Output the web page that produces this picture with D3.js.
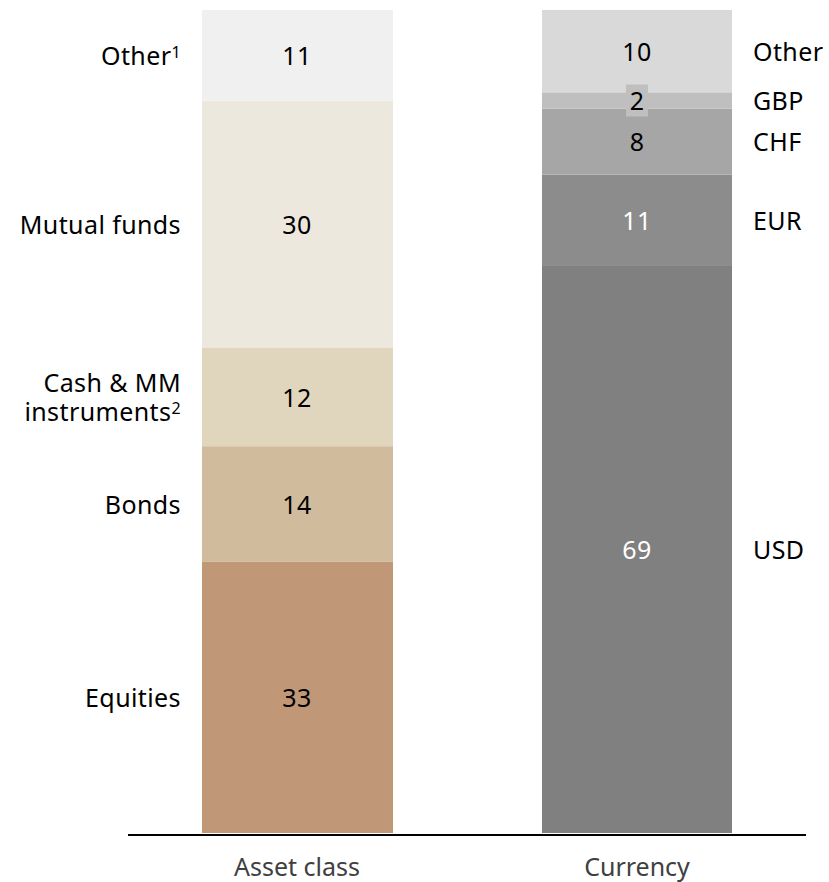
<!DOCTYPE html>
<html><head><meta charset="utf-8">
<script src="https://cdn.jsdelivr.net/npm/d3@7"></script>
<style>body{margin:0;background:#fff}svg{display:block}text{font-family:"Noto Sans",sans-serif}</style>
</head><body><svg id="c" width="829" height="882"></svg>
<script>
const groups = ["Asset class", "Currency"];
const assetNames = ["Equities", "Bonds", "Cash & MM instruments", "Mutual funds", "Other"];
const assetValues = [33, 14, 12, 30, 11];
const assetNotes = ["", "", "2", "", "1"];
const assetColors = ["#c09878", "#d0bc9c", "#e0d5bd", "#ede8dd", "#f0f0f0"];
const curNames = ["USD", "EUR", "CHF", "GBP", "Other"];
const curValues = [69, 11, 8, 2, 10];
const curColors = ["#808080", "#8c8c8c", "#a6a6a6", "#bfbfbf", "#d9d9d9"];
const whiteLabels = ["USD", "EUR"];

const svg = d3.select("#c");
const fs = 25;
const ls = "0.4px";
const barW = 190;
const x = d3.scaleOrdinal().domain(groups).range([202, 542]);
const y = d3.scaleLinear().domain([0, 100]).range([833, 10]);

function stack(vals){ let c = 0; return vals.map(v => { const s = c; c += v; return [s, c]; }); }
const aSt = stack(assetValues), cSt = stack(curValues);

const xA = x("Asset class"), xC = x("Currency");
const cxA = xA + barW / 2, cxC = xC + barW / 2;

// bars
svg.append("g").selectAll("rect").data(assetValues).join("rect")
  .attr("x", xA).attr("width", barW + 1)
  .attr("y", (d, i) => y(aSt[i][1])).attr("height", (d, i) => y(aSt[i][0]) - y(aSt[i][1]))
  .attr("fill", (d, i) => assetColors[i]);
svg.append("g").selectAll("rect").data(curValues).join("rect")
  .attr("x", xC).attr("width", barW)
  .attr("y", (d, i) => y(cSt[i][1])).attr("height", (d, i) => y(cSt[i][0]) - y(cSt[i][1]))
  .attr("fill", (d, i) => curColors[i]);

// asset value labels
assetValues.forEach((v, i) => {
  const [s, e] = aSt[i];
  svg.append("text").attr("x", cxA).attr("y", y((s + e) / 2) + 1).attr("dy", "0.35em")
    .attr("text-anchor", "middle").attr("font-size", fs).attr("letter-spacing", ls)
    .attr("fill", "#000").text(v);
});

// currency value + name labels
curValues.forEach((v, i) => {
  const [s, e] = cSt[i];
  const ym = y((s + e) / 2) + 1;
  if (v < 4) {
    svg.append("rect").attr("x", cxC - 11).attr("y", ym - 17).attr("width", 22).attr("height", 32)
      .attr("fill", curColors[i]);
  }
  svg.append("text").attr("x", cxC).attr("y", ym).attr("dy", "0.35em")
    .attr("text-anchor", "middle").attr("font-size", fs).attr("letter-spacing", ls)
    .attr("fill", whiteLabels.includes(curNames[i]) ? "#fff" : "#000").text(v);
  svg.append("text").attr("x", 753).attr("y", ym).attr("dy", "0.35em")
    .attr("font-size", fs).attr("letter-spacing", ls).attr("fill", "#000").text(curNames[i]);
});

// asset category labels
assetNames.forEach((n, i) => {
  const [s, e] = aSt[i];
  const ym = y((s + e) / 2) + 1;
  const lines = n === "Cash & MM instruments" ? ["Cash & MM", "instruments"] : [n];
  const t = svg.append("text").attr("text-anchor", "end").attr("font-size", fs)
    .attr("letter-spacing", ls).attr("fill", "#000");
  lines.forEach((ln, k) => {
    const off = (k - (lines.length - 1) / 2) * 29;
    t.append("tspan").attr("x", 181).attr("y", ym + off).attr("dy", "0.35em").text(ln);
    if (k === lines.length - 1 && assetNotes[i]) {
      t.append("tspan").attr("dy", "-0.42em").attr("font-size", 16).text(assetNotes[i]);
    }
  });
});

// baseline
const ax = svg.append("g").attr("transform", "translate(0,835)");
ax.append("line").attr("x1", 128).attr("x2", 806).attr("stroke", "#000").attr("stroke-width", 2);
[["Asset class", cxA], ["Currency", cxC]].forEach(([g, cx]) => {
  ax.append("text").attr("x", cx).attr("y", 32).attr("dy", "0.35em").attr("text-anchor", "middle")
    .attr("font-size", fs).attr("fill", "#404040").text(g);
});
</script>
</body></html>
